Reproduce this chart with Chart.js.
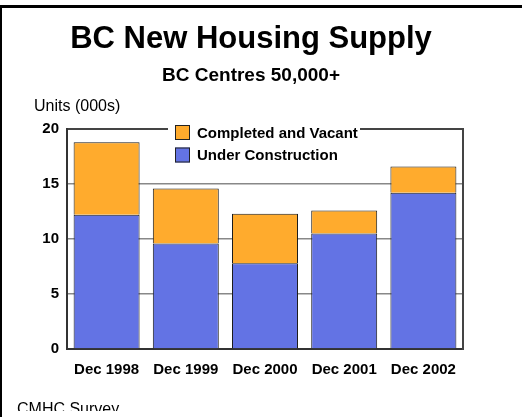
<!DOCTYPE html>
<html>
<head>
<meta charset="utf-8">
<script src="https://cdn.jsdelivr.net/npm/chart.js@4.4.1/dist/chart.umd.min.js"></script>
<style>
  html, body { margin: 0; padding: 0; background: #fff; }
  #wrap { position: relative; width: 522px; height: 417px; }
</style>
</head>
<body>
<div id="wrap"><canvas id="c" width="522" height="417"></canvas></div>
<script>
const categories = ['Dec 1998', 'Dec 1999', 'Dec 2000', 'Dec 2001', 'Dec 2002'];
const underConstruction = [12.2, 9.6, 7.8, 10.5, 14.2];
const completedVacant = [6.6, 5.0, 4.5, 2.1, 2.4];
const yTicks = [0, 5, 10, 15, 20];
const titleText = 'BC New Housing Supply';
const subtitleText = 'BC Centres 50,000+';
const unitsText = 'Units (000s)';
const sourceText = 'CMHC Survey';

const FONT = "'Liberation Sans', Arial, sans-serif";

const decorPlugin = {
  id: 'decor',
  afterDraw(chart) {
    const ctx = chart.ctx;
    const ca = chart.chartArea;
    ctx.save();
    // frame lines (top & left)
    ctx.fillStyle = '#000';
    ctx.fillRect(0, 5, chart.width, 3);
    ctx.fillRect(0, 5, 2, chart.height - 5);
    // units label
    ctx.font = '16px ' + FONT;
    ctx.fillStyle = '#000';
    ctx.textBaseline = 'alphabetic';
    ctx.textAlign = 'left';
    ctx.fillText(unitsText, 34, 111);
    // source, clipped like the original
    ctx.save();
    ctx.beginPath();
    ctx.rect(0, 0, chart.width, 411);
    ctx.clip();
    ctx.fillText(sourceText, 17, 414);
    ctx.restore();
    // legend (reverse dataset order)
    const lx = ca.left + 101;
    const ly = ca.top - 9;
    ctx.fillStyle = '#fff';
    ctx.fillRect(lx, ly, 192, 48);
    const items = chart.data.datasets.slice().reverse();
    ctx.font = 'bold 15px ' + FONT;
    items.forEach((ds, i) => {
      const cy = ca.top + 3.5 + i * 22.5;
      ctx.fillStyle = ds.backgroundColor;
      ctx.fillRect(lx + 7, cy - 7.5, 15, 15);
      ctx.strokeStyle = '#222';
      ctx.lineWidth = 1;
      ctx.strokeRect(lx + 7.5, cy - 7, 14, 14);
      ctx.fillStyle = '#000';
      ctx.textBaseline = 'middle';
      ctx.fillText(ds.label, lx + 29, cy + 1);
    });
    ctx.restore();
  }
};

new Chart(document.getElementById('c'), {
  type: 'bar',
  data: {
    labels: categories,
    datasets: [
      {
        label: 'Under Construction',
        data: underConstruction,
        backgroundColor: '#6373E4',
        borderColor: '#1a1a1a',
        borderWidth: 1,
        categoryPercentage: 1,
        barPercentage: 0.833
      },
      {
        label: 'Completed and Vacant',
        data: completedVacant,
        backgroundColor: '#FFAB2D',
        borderColor: '#1a1a1a',
        borderWidth: 1,
        categoryPercentage: 1,
        barPercentage: 0.833
      }
    ]
  },
  options: {
    responsive: false,
    animation: false,
    devicePixelRatio: 1,
    layout: { padding: { left: 0, right: 20, top: 0, bottom: 0 } },
    plugins: {
      legend: { display: false },
      tooltip: { enabled: false },
      title: {
        display: true,
        text: titleText,
        color: '#000',
        font: { family: FONT, size: 31, weight: 'bold', lineHeight: 0.5 },
        padding: { top: 32, bottom: 0 }
      },
      subtitle: {
        display: true,
        text: subtitleText,
        color: '#000',
        font: { family: FONT, size: 19, weight: 'bold', lineHeight: 1 },
        padding: { top: 19, bottom: 43.5 }
      }
    },
    scales: {
      x: {
        stacked: true,
        grid: { display: true, drawOnChartArea: false, drawTicks: false },
        border: { display: true, color: '#333', width: 2 },
        ticks: {
          color: '#000',
          padding: 12,
          font: { family: FONT, size: 15, weight: 'bold' }
        },
        afterFit(scale) { scale.height = 68; }
      },
      y: {
        stacked: true,
        min: 0,
        max: 20,
        afterBuildTicks(scale) { scale.ticks = yTicks.map(v => ({ value: v })); },
        grid: {
          drawTicks: false,
          color: (c) => (c.tick && c.tick.value === 20 ? '#444' : '#888'),
          lineWidth: (c) => (c.tick && c.tick.value === 20 ? 2 : 1.5)
        },
        border: { display: true, color: '#333', width: 2 },
        ticks: {
          color: '#000',
          padding: 8,
          font: { family: FONT, size: 15, weight: 'bold' }
        },
        afterFit(scale) { scale.width = 67; }
      },
      y2: {
        position: 'right',
        min: 0,
        max: 20,
        grid: { display: true, drawOnChartArea: false, drawTicks: false },
        border: { display: true, color: '#444', width: 2 },
        ticks: { display: false },
        afterFit(scale) { scale.width = 39; }
      }
    }
  },
  plugins: [decorPlugin]
});
</script>
</body>
</html>
